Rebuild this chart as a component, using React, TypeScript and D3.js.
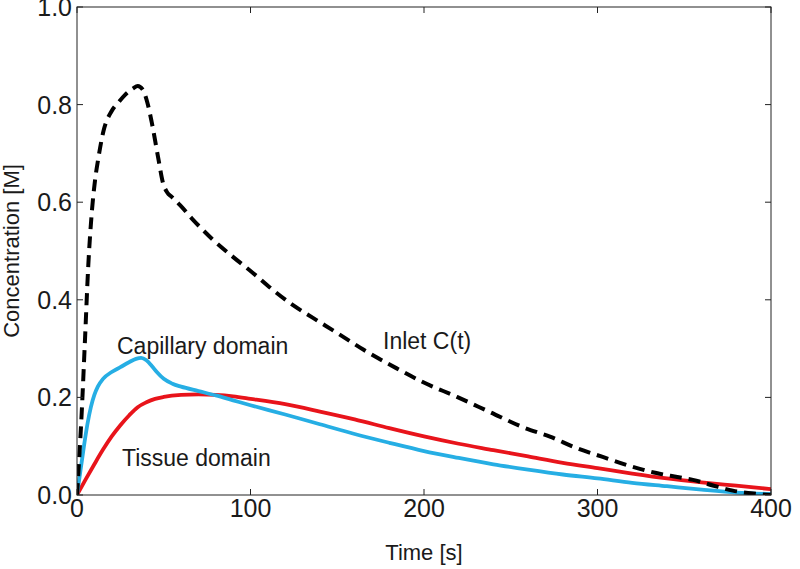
import React from "react";
import * as d3 from "d3";

const inletT = [0, 1.2, 2.7, 4.6, 6.5, 8.5, 10.4, 12.3, 15.2, 20, 24, 27.7, 32.3, 35, 38, 40.5, 43, 46.7, 49.6, 52, 54.6, 59.4, 66.9, 78.4, 89.9, 101.4, 113, 124.5, 136, 150, 165, 184, 199, 219, 238, 257, 273, 288, 303, 320, 334, 346, 355, 367, 378, 390, 400];
const inletC = [0, 0.07, 0.168, 0.318, 0.47, 0.578, 0.645, 0.69, 0.745, 0.787, 0.805, 0.82, 0.833, 0.838, 0.83, 0.805, 0.765, 0.693, 0.639, 0.62, 0.611, 0.594, 0.564, 0.523, 0.488, 0.455, 0.42, 0.389, 0.363, 0.332, 0.298, 0.26, 0.232, 0.201, 0.17, 0.139, 0.119, 0.096, 0.078, 0.058, 0.045, 0.037, 0.031, 0.019, 0.009, 0.003, 0];

const capT = [0, 2, 4, 6, 8, 10, 12, 15, 20, 25, 30, 34, 37, 40, 43, 46, 50, 55, 60, 70, 80, 90, 100, 120, 140, 160, 180, 200, 220, 240, 260, 280, 300, 320, 340, 360, 380, 400];
const capC = [0, 0.05, 0.1, 0.145, 0.18, 0.205, 0.222, 0.238, 0.252, 0.262, 0.272, 0.279, 0.281, 0.276, 0.265, 0.252, 0.238, 0.228, 0.222, 0.213, 0.204, 0.194, 0.184, 0.165, 0.145, 0.125, 0.107, 0.09, 0.076, 0.063, 0.052, 0.042, 0.034, 0.025, 0.018, 0.011, 0.005, 0.002];

const tisT = [0, 5, 10, 15, 20, 25, 30, 35, 40, 45, 50, 60, 70, 80, 90, 100, 120, 140, 160, 180, 200, 220, 240, 260, 280, 300, 320, 340, 360, 380, 400];
const tisC = [0, 0.032, 0.063, 0.093, 0.12, 0.143, 0.163, 0.18, 0.19, 0.197, 0.201, 0.205, 0.206, 0.205, 0.202, 0.197, 0.186, 0.171, 0.155, 0.137, 0.12, 0.105, 0.092, 0.079, 0.066, 0.055, 0.044, 0.034, 0.026, 0.019, 0.012];

const xTicks = [0, 100, 200, 300, 400];
const yTicks = [0, 0.2, 0.4, 0.6, 0.8, 1.0];

const W = 800, H = 569;
const L = 77, R = 771, T = 7, B = 495;

export default function App() {
  const x = d3.scaleLinear().domain([0, 400]).range([L, R]);
  const y = d3.scaleLinear().domain([0, 1]).range([B, T]);
  const mk = (ts: number[], cs: number[]) =>
    d3.line<number>().x((_, i) => x(ts[i])).y((_, i) => y(cs[i])).curve(d3.curveMonotoneX)(ts) || "";
  const font = "'Liberation Sans', Arial, sans-serif";
  const tc = "#1a1a1a";
  const tl = 6;
  return (
    <svg width={W} height={H} style={{ position: "absolute", left: 0, top: 0, background: "#fff" }} fontFamily={font}>
      <defs>
        <clipPath id="pc"><rect x={L} y={T} width={R - L} height={B - T} /></clipPath>
      </defs>
      <g clipPath="url(#pc)" fill="none" strokeLinejoin="round">
        <path d={mk(tisT, tisC)} stroke="#e8141b" strokeWidth={3.8} />
        <path d={mk(capT, capC)} stroke="#26aee4" strokeWidth={3.8} />
        <path d={mk(inletT, inletC)} stroke="#000" strokeWidth={4} strokeDasharray="12 7" />
      </g>
      <rect x={L} y={T} width={R - L} height={B - T} fill="none" stroke="#222" strokeWidth={1} />
      {xTicks.map((t) => (
        <g key={"x" + t}>
          <line x1={x(t)} x2={x(t)} y1={B} y2={B - tl} stroke="#222" />
          <line x1={x(t)} x2={x(t)} y1={T} y2={T + tl} stroke="#222" />
          <text x={x(t)} y={B + 22} textAnchor="middle" fontSize={25} fill={tc}>{t}</text>
        </g>
      ))}
      {yTicks.map((v) => (
        <g key={"y" + v}>
          <line x1={L} x2={L + tl} y1={y(v)} y2={y(v)} stroke="#222" />
          <line x1={R} x2={R - tl} y1={y(v)} y2={y(v)} stroke="#222" />
          <text x={L - 5} y={y(v) + 9} textAnchor="end" fontSize={25} fill={tc}>{v.toFixed(1)}</text>
        </g>
      ))}
      <text x={(L + R) / 2} y={560} textAnchor="middle" fontSize={22} fill={tc}>Time [s]</text>
      <text transform={`translate(19,${(T + B) / 2}) rotate(-90)`} textAnchor="middle" fontSize={22} fill={tc}>Concentration [M]</text>
      <text x={117} y={354} fontSize={23} fill={tc}>Capillary domain</text>
      <text x={122} y={466} fontSize={23} fill={tc}>Tissue domain</text>
      <text x={383} y={349} fontSize={23} fill={tc}>Inlet C(t)</text>
    </svg>
  );
}
